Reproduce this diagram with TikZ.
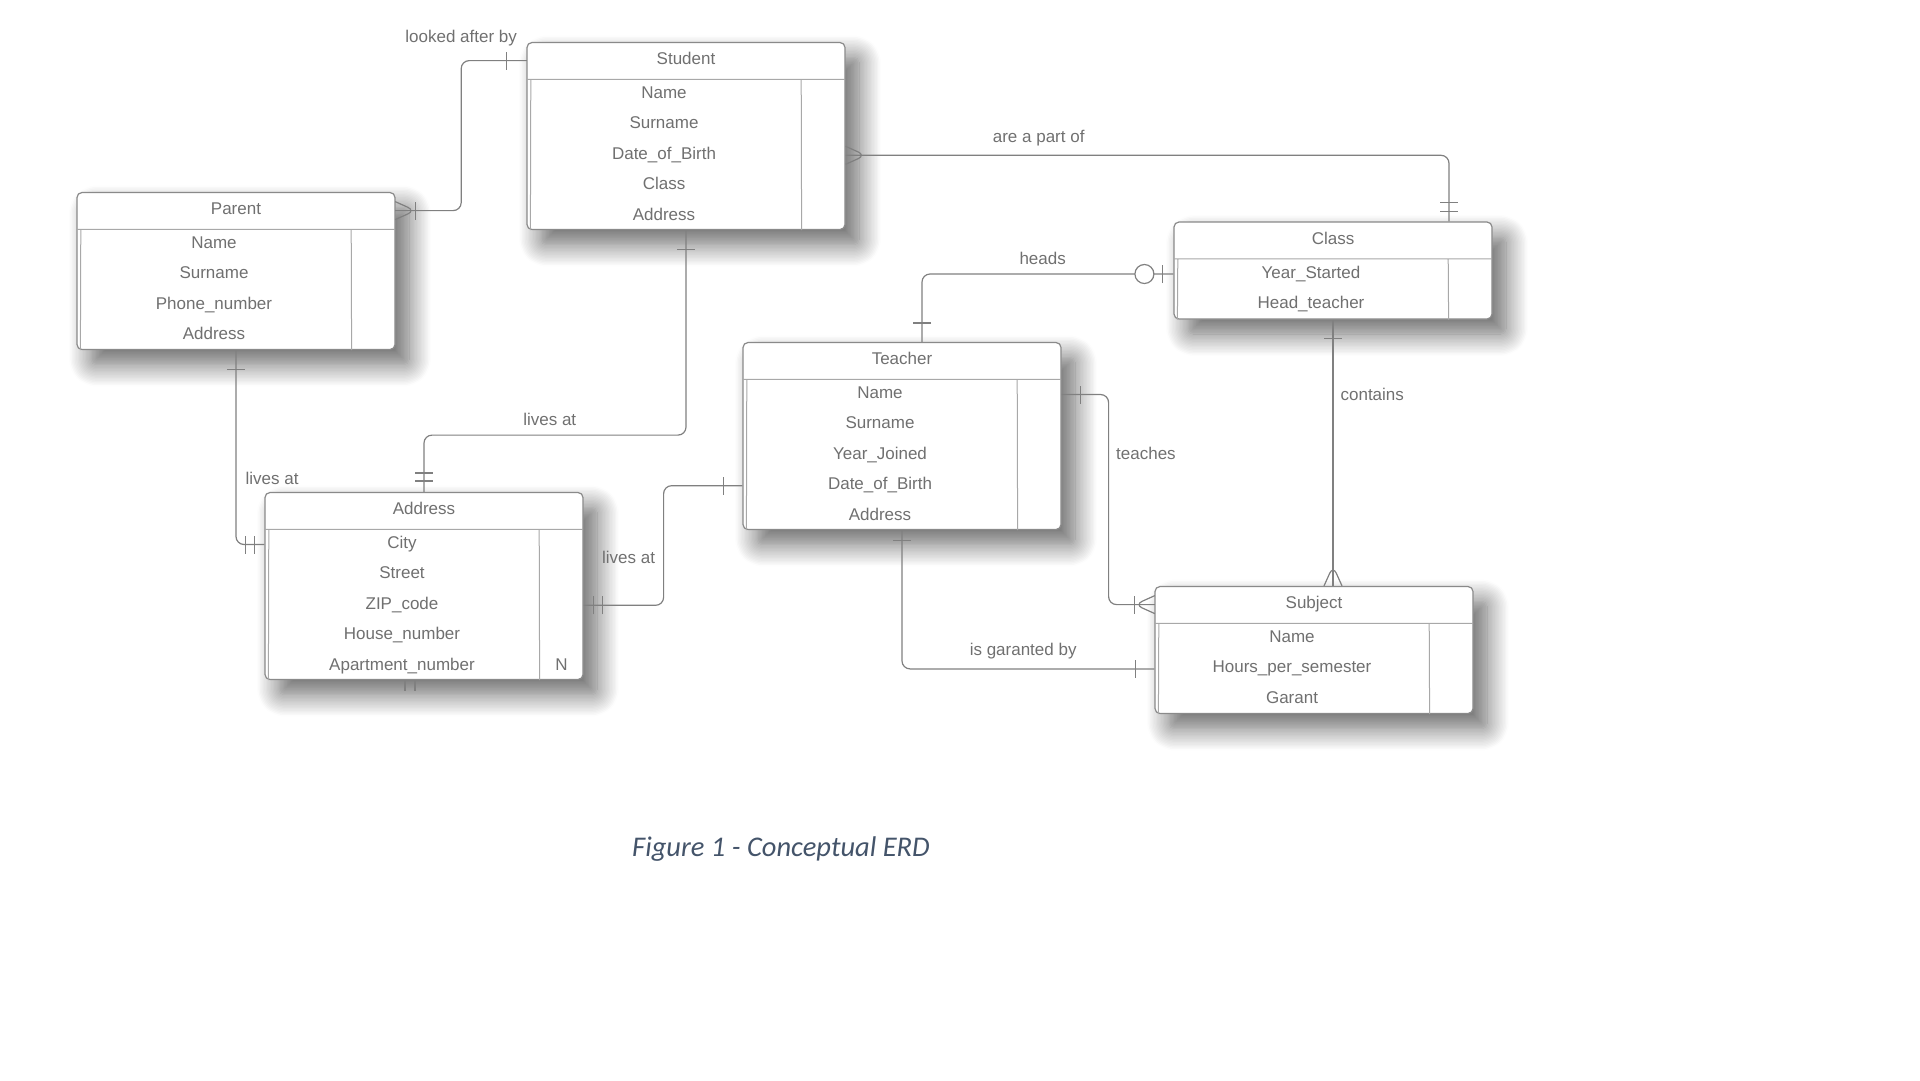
\documentclass[tikz,border=0pt]{standalone}
\usepackage{fontspec}
\setmainfont{Liberation Sans}
\newfontfamily\capfont{Carlito}
\usepackage{xcolor}
\usetikzlibrary{positioning,decorations.markings,shadows.blur}

\definecolor{txtgray}{HTML}{707070}
\definecolor{boxgray}{HTML}{8A8A8A}
\definecolor{linegray}{HTML}{808080}
\definecolor{ingray}{HTML}{A8A8A8}
\definecolor{capblue}{HTML}{44546A}
\newcommand{\erdfont}{\fontsize{17}{20}\selectfont}

\begin{document}
\begin{tikzpicture}[
    x=1pt, y=-1pt,
    entity/.style={draw=boxgray, line width=1.2pt, fill=white, rounded corners=5pt, minimum width=318pt, inner sep=0pt,
        blur shadow={shadow xshift=14pt, shadow yshift=-15pt, shadow blur radius=22pt, shadow blur steps=16, shadow opacity=60}},
    etitle/.style={font=\erdfont, text=txtgray, minimum width=318pt, minimum height=37pt, inner sep=0pt, text height=12pt, text depth=4pt},
    attr/.style={font=\erdfont, text=txtgray, minimum height=30pt, inner sep=0pt, text height=12pt, text depth=4pt},
    inner/.style={draw=ingray, line width=1pt},
    rel/.style={draw=linegray, line width=1.2pt, rounded corners=8pt},
    lbl/.style={font=\erdfont, text=txtgray, inner sep=2pt},
    tick/.style={draw=linegray, line width=1.2pt},
    bar at/.style={postaction={decorate, decoration={markings, mark=at position #1 with {\draw[tick] (0pt,-9pt) -- (0pt,9pt);}}}},
    ring at/.style={postaction={decorate, decoration={markings, mark=at position #1 with {\draw[tick, fill=white] (0pt,0pt) circle (9.5pt);}}}},
    crow end/.style={postaction={decorate, decoration={markings, mark=at position -20pt with {\draw[tick] (20pt,-9pt) -- (0pt,0pt) -- (20pt,9pt);}}}},
    crow start/.style={postaction={decorate, decoration={markings, mark=at position 20pt with {\draw[tick] (-20pt,-9pt) -- (0pt,0pt) -- (-20pt,9pt);}}}},
    caption/.style={font=\capfont\itshape\fontsize{28.5}{34}\selectfont, text=capblue}
]
\useasboundingbox (0,0) rectangle (1920,1080);

% Parent
\node[entity, minimum height=157pt] (parent) at (236,271) {};
\node[etitle, below=0pt of parent.north] (parentT) {Parent};
\node[attr, below=0pt of parentT, xshift=-22pt] (paName) {Name};
\node[attr, below=0pt of paName] (paSurname) {Surname};
\node[attr, below=0pt of paSurname] (paPhone) {Phone\_number};
\node[attr, below=0pt of paPhone] (paAddr) {Address};
\draw[inner] (parentT.south west) -- (parentT.south east)
    ([xshift=4pt]parentT.south west) -- ([xshift=4pt]parent.south west)
    ([xshift=-44pt]parentT.south east) -- ([xshift=-44pt]parent.south east);

% Student
\node[entity, minimum height=187pt] (student) at (686,136) {};
\node[etitle, below=0pt of student.north] (studentT) {Student};
\node[attr, below=0pt of studentT, xshift=-22pt] (stName) {Name};
\node[attr, below=0pt of stName] (stSurname) {Surname};
\node[attr, below=0pt of stSurname] (stDob) {Date\_of\_Birth};
\node[attr, below=0pt of stDob] (stClass) {Class};
\node[attr, below=0pt of stClass] (stAddr) {Address};
\draw[inner] (studentT.south west) -- (studentT.south east)
    ([xshift=4pt]studentT.south west) -- ([xshift=4pt]student.south west)
    ([xshift=-44pt]studentT.south east) -- ([xshift=-44pt]student.south east);

% Address
\node[entity, minimum height=187pt] (address) at (424,586) {};
\node[etitle, below=0pt of address.north] (addressT) {Address};
\node[attr, below=0pt of addressT, xshift=-22pt] (adCity) {City};
\node[attr, below=0pt of adCity] (adStreet) {Street};
\node[attr, below=0pt of adStreet] (adZip) {ZIP\_code};
\node[attr, below=0pt of adZip] (adHouse) {House\_number};
\node[attr, below=0pt of adHouse] (adApt) {Apartment\_number};
\node[attr, xshift=-22pt] (adN) at (adApt -| address.east) {N};
\draw[inner] (addressT.south west) -- (addressT.south east)
    ([xshift=4pt]addressT.south west) -- ([xshift=4pt]address.south west)
    ([xshift=-44pt]addressT.south east) -- ([xshift=-44pt]address.south east);

% Teacher
\node[entity, minimum height=187pt] (teacher) at (902,436) {};
\node[etitle, below=0pt of teacher.north] (teacherT) {Teacher};
\node[attr, below=0pt of teacherT, xshift=-22pt] (teName) {Name};
\node[attr, below=0pt of teName] (teSurname) {Surname};
\node[attr, below=0pt of teSurname] (teJoined) {Year\_Joined};
\node[attr, below=0pt of teJoined] (teDob) {Date\_of\_Birth};
\node[attr, below=0pt of teDob] (teAddr) {Address};
\draw[inner] (teacherT.south west) -- (teacherT.south east)
    ([xshift=4pt]teacherT.south west) -- ([xshift=4pt]teacher.south west)
    ([xshift=-44pt]teacherT.south east) -- ([xshift=-44pt]teacher.south east);

% Class
\node[entity, minimum height=97pt] (klass) at (1333,270.5) {};
\node[etitle, below=0pt of klass.north] (klassT) {Class};
\node[attr, below=0pt of klassT, xshift=-22pt] (clYear) {Year\_Started};
\node[attr, below=0pt of clYear] (clHead) {Head\_teacher};
\draw[inner] (klassT.south west) -- (klassT.south east)
    ([xshift=4pt]klassT.south west) -- ([xshift=4pt]klass.south west)
    ([xshift=-44pt]klassT.south east) -- ([xshift=-44pt]klass.south east);

% Subject
\node[entity, minimum height=127pt] (subject) at (1314,650) {};
\node[etitle, below=0pt of subject.north] (subjectT) {Subject};
\node[attr, below=0pt of subjectT, xshift=-22pt] (suName) {Name};
\node[attr, below=0pt of suName] (suHours) {Hours\_per\_semester};
\node[attr, below=0pt of suHours] (suGarant) {Garant};
\draw[inner] (subjectT.south west) -- (subjectT.south east)
    ([xshift=4pt]subjectT.south west) -- ([xshift=4pt]subject.south west)
    ([xshift=-44pt]subjectT.south east) -- ([xshift=-44pt]subject.south east);

% Relations
\draw[rel, crow start, bar at=20pt, bar at=-20pt] (parentT.east) -- ++(66,0) |- node[lbl, pos=0.5, above=12pt] {looked after by} (studentT.west);
\draw[rel, bar at=19pt, bar at=-10pt, bar at=-19pt] (parent.south) |- node[lbl, pos=0.33, right=7pt] {lives at} (address.west |- adCity);
\draw[rel, bar at=19pt, bar at=-11pt, bar at=-19pt] (student.south) -- ++(0,205) -| node[lbl, pos=0.26, above=7pt] {lives at} (address.north);
\draw[rel, bar at=10pt, bar at=19pt, bar at=-19pt] (address.east |- adZip) -- ++(80,0) |- node[lbl, pos=0.2, left=6pt] {lives at} (teacher.west |- teDob);
\draw[rel, bar at=19pt, bar at=-11pt, ring at=-29pt] ([xshift=20pt]teacher.north) |- node[lbl, pos=0.74, above=7pt] {heads} (klass.west |- clYear);
\draw[rel, bar at=19pt, crow end] (klass.south) -- node[lbl, pos=0.28, right=5pt] {contains} (klass.south |- subject.north);
\draw[rel, bar at=19pt, bar at=-20pt, crow end] (teacher.east |- teName) -- ++(47,0) |- node[lbl, pos=0.14, right=5pt] {teaches} (subjectT.west);
\draw[rel, bar at=10pt, bar at=-19pt] (teacher.south) |- node[lbl, pos=0.74, above=7pt] {is garanted by} (subject.west |- suHours);
\draw[rel, crow start, bar at=-10pt, bar at=-19pt] (student.east |- stDob) -| node[lbl, pos=0.16, above=7pt] {are a part of} ([xshift=116pt]klass.north);
\draw[tick] ([xshift=-19pt]address.south) -- ++(0,11) ([xshift=-9pt]address.south) -- ++(0,11);

% Caption
\node[caption] (figcap) at (781,849) {Figure 1 - Conceptual ERD};

\end{tikzpicture}
\end{document}
